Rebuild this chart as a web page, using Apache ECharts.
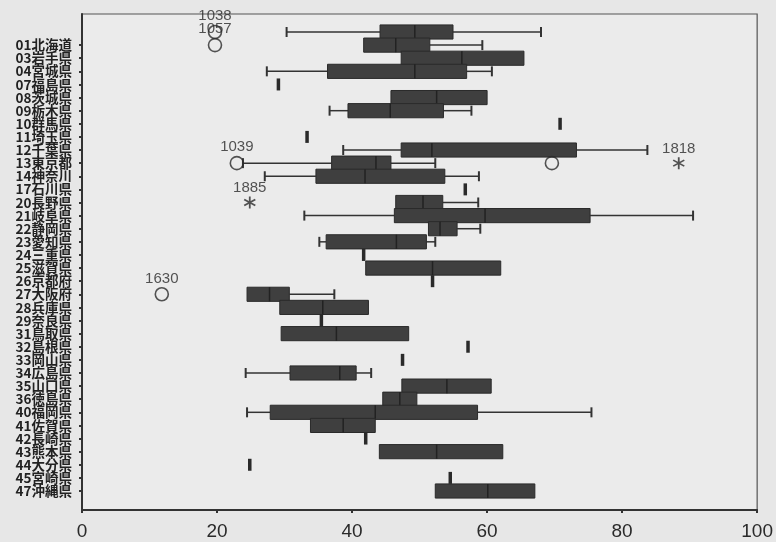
<!DOCTYPE html>
<html><head><meta charset="utf-8">
<script src="https://cdn.jsdelivr.net/npm/echarts@6/dist/echarts.min.js"></script>
<style>html,body{margin:0;padding:0;background:#e7e7e7}#c{width:776px;height:542px}</style>
</head><body><div id="c"></div>
<script>
// Row 0 is an unlabeled group in the original chart.
const categories = ['', '01北海道', '03岩手県', '04宮城県', '07福島県', '08茨城県', '09栃木県', '10群馬県', '11埼玉県', '12千葉県', '13東京都', '14神奈川', '17石川県', '20長野県', '21岐阜県', '22静岡県', '23愛知県', '24三重県', '25滋賀県', '26京都府', '27大阪府', '28兵庫県', '29奈良県', '31鳥取県', '32島根県', '33岡山県', '34広島県', '35山口県', '36徳島県', '40福岡県', '41佐賀県', '42長崎県', '43熊本県', '44大分県', '45宮崎県', '47沖縄県'];
const minVals = [30.0, 41.3, 46.8, 27.1, 28.8, 45.3, 36.3, 70.1, 33.0, 38.3, 23.6, 26.8, 56.2, 46.0, 32.6, 50.8, 34.8, 41.3, 41.6, 51.4, 24.2, 29.0, 35.1, 29.2, 56.6, 47.0, 24.0, 46.9, 44.1, 24.2, 33.5, 41.6, 43.6, 24.6, 54.0, 51.8];
const q1Vals  = [43.7, 41.3, 46.8, 36.0, 28.8, 45.3, 39.0, 70.1, 33.0, 46.8, 36.6, 34.3, 56.2, 46.0, 45.8, 50.8, 35.8, 41.3, 41.6, 51.4, 24.2, 29.0, 35.1, 29.2, 56.6, 47.0, 30.5, 46.9, 44.1, 27.6, 33.5, 41.6, 43.6, 24.6, 54.0, 51.8];
const medVals = [48.8, 46.0, 55.7, 48.8, 28.8, 52.0, 45.2, 70.1, 33.0, 51.3, 43.1, 41.5, 56.2, 50.0, 59.1, 52.5, 46.1, 41.3, 51.4, 51.4, 27.5, 35.3, 35.1, 37.3, 56.6, 47.0, 37.8, 53.5, 46.6, 43.0, 38.3, 41.6, 52.0, 24.6, 54.0, 59.5];
const q3Vals  = [54.4, 51.0, 64.8, 56.4, 28.8, 59.4, 53.0, 70.1, 33.0, 72.5, 45.3, 53.2, 56.2, 52.9, 74.5, 55.0, 50.5, 41.3, 61.4, 51.4, 30.4, 42.0, 35.1, 47.9, 56.6, 47.0, 40.2, 60.0, 49.1, 58.0, 43.0, 41.6, 61.7, 24.6, 54.0, 66.4];
const maxVals = [67.3, 58.7, 64.8, 60.1, 28.8, 59.4, 57.1, 70.1, 33.0, 82.9, 51.8, 58.2, 56.2, 58.1, 89.6, 58.4, 51.8, 41.3, 61.4, 51.4, 37.0, 42.0, 35.1, 47.9, 56.6, 47.0, 42.4, 60.0, 49.1, 74.7, 43.0, 41.6, 61.7, 24.6, 54.0, 66.4];

// Outliers (circles) and extremes (asterisks)
const outlierValues = [19.5, 19.5, 22.7, 68.9, 11.7];
const outlierRows   = [0, 1, 10, 10, 20];
const outlierIds    = ['1038', '1057', '1039', '', '1630'];
const extremeValues = [87.5, 24.6];
const extremeRows   = [10, 13];
const extremeIds    = ['1818', '1885'];

const xMin = 0, xMax = 100, xInterval = 20;

const boxData = categories.map((c, i) => [i, minVals[i], q1Vals[i], medVals[i], q3Vals[i], maxVals[i]]);

function renderBox(params, api) {
  const row = api.value(0);
  const lo = api.value(1), q1 = api.value(2), md = api.value(3), q3 = api.value(4), hi = api.value(5);
  const y = api.coord([lo, row])[1];
  const band = api.size([0, 1])[1];
  const X = v => api.coord([v, row])[0];
  const xLo = X(lo), xQ1 = X(q1), xMd = X(md), xQ3 = X(q3), xHi = X(hi);
  const children = [];
  const wStyle = { stroke: '#333', lineWidth: 1.5 };
  const capStyle = { stroke: '#333', lineWidth: 2 };
  const cap = 5;
  if (xQ1 - xLo > 0.5) {
    children.push({ type: 'line', shape: { x1: xLo, y1: y, x2: xQ1, y2: y }, style: wStyle });
    children.push({ type: 'line', shape: { x1: xLo, y1: y - cap, x2: xLo, y2: y + cap }, style: capStyle });
  }
  if (xHi - xQ3 > 0.5) {
    children.push({ type: 'line', shape: { x1: xQ3, y1: y, x2: xHi, y2: y }, style: wStyle });
    children.push({ type: 'line', shape: { x1: xHi, y1: y - cap, x2: xHi, y2: y + cap }, style: capStyle });
  }
  if (xQ3 - xQ1 < 2) {
    children.push({ type: 'rect', shape: { x: xMd - 1.75, y: y - 6, width: 3.5, height: 12 }, style: { fill: '#2a2a2a' } });
  } else {
    const h = band * 1.08;
    children.push({ type: 'rect', shape: { x: xQ1, y: y - h / 2, width: xQ3 - xQ1, height: h }, style: { fill: '#3f3f3f', stroke: '#2a2a2a', lineWidth: 1 } });
    children.push({ type: 'line', shape: { x1: xMd, y1: y - h / 2, x2: xMd, y2: y + h / 2 }, style: { stroke: '#222', lineWidth: 1.5 } });
  }
  return { type: 'group', children };
}

const starPath = 'path://M8.6 0L11.4 0L11.4 20L8.6 20Z M0.64 13.79L17.96 3.79L19.36 6.21L2.04 16.21Z M2.04 3.79L19.36 13.79L17.96 16.21L0.64 6.21Z';

const idLabel = { show: true, position: 'top', distance: 1, formatter: '{b}', fontSize: 15, color: '#2a2a2a', fontFamily: 'Liberation Sans' };

const chart = echarts.init(document.getElementById('c'));
chart.setOption({
  backgroundColor: '#e7e7e7',
  animation: false,
  grid: [
    { left: 82, right: 12, top: 14, bottom: 32, show: true, borderColor: '#555', borderWidth: 1.2, backgroundColor: '#ebebeb' },
    { left: 82, right: 12, top: 25.44, bottom: 44.44 }
  ],
  xAxis: [
    { gridIndex: 0, type: 'value', min: xMin, max: xMax, interval: xInterval,
      axisLine: { show: true, onZero: false, lineStyle: { color: '#333', width: 2 } },
      axisTick: { show: true, length: 3, lineStyle: { color: '#333', width: 2 } },
      axisLabel: { fontSize: 19, color: '#2a2a2a', margin: 12, fontFamily: 'Liberation Sans' },
      splitLine: { show: false } },
    { gridIndex: 1, type: 'value', min: xMin, max: xMax, show: false }
  ],
  yAxis: [
    { gridIndex: 0, type: 'value', min: 0, max: 1,
      axisLine: { show: true, onZero: false, lineStyle: { color: '#333', width: 2 } },
      axisTick: { show: false }, axisLabel: { show: false }, splitLine: { show: false } },
    { gridIndex: 1, type: 'category', inverse: true, data: categories,
      axisLine: { show: false },
      axisTick: { show: true, alignWithLabel: true, length: 3, interval: (i) => i !== 0, lineStyle: { color: '#333', width: 2 } },
      axisLabel: { interval: 0, fontSize: 13.5, color: '#222', margin: 10, fontFamily: 'Noto Sans CJK JP', fontWeight: 'bold' },
      splitLine: { show: false } }
  ],
  series: [
    { type: 'custom', xAxisIndex: 1, yAxisIndex: 1, renderItem: renderBox, data: boxData,
      encode: { x: [1, 2, 3, 4, 5], y: 0 }, silent: true, z: 2 },
    { type: 'scatter', xAxisIndex: 1, yAxisIndex: 1, symbol: 'circle', symbolSize: 13,
      itemStyle: { color: 'rgba(0,0,0,0)', borderColor: '#2a2a2a', borderWidth: 1.6 },
      label: idLabel, silent: true, z: 3,
      data: outlierValues.map((v, i) => ({ value: [v, outlierRows[i]], name: outlierIds[i] })) },
    { type: 'scatter', xAxisIndex: 1, yAxisIndex: 1, symbol: starPath, symbolSize: 12,
      itemStyle: { color: '#2a2a2a' },
      label: idLabel, silent: true, z: 3,
      data: extremeValues.map((v, i) => ({ value: [v, extremeRows[i]], name: extremeIds[i] })) }
  ]
});
</script>
</body></html>
